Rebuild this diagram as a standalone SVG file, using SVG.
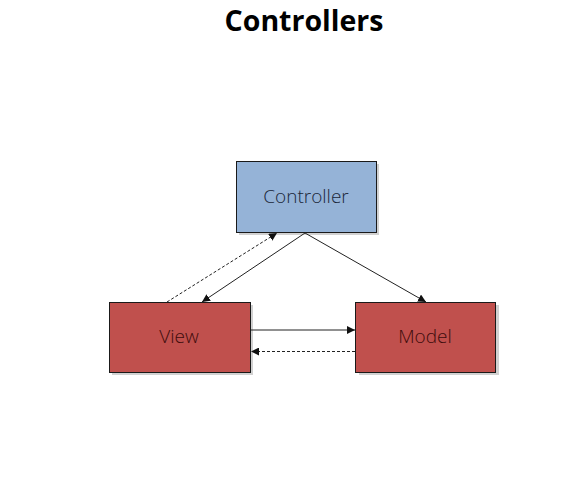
<svg xmlns="http://www.w3.org/2000/svg" width="588" height="501" viewBox="0 0 588 501">
<style>
.title{font-family:"Open Sans","Liberation Sans",sans-serif;font-weight:700;font-size:28.5px;fill:#000;text-anchor:middle}
.lbl{font-family:"Open Sans","Liberation Sans",sans-serif;font-weight:300;font-size:19px;text-anchor:middle;dominant-baseline:central}
.box{stroke:#1a1a1a;stroke-width:1}
.ctl{fill:#95b3d7}
.red{fill:#c0504d}
.sh{fill:#000;opacity:0.18}
.ln{stroke:#222;stroke-width:1;fill:none}
.dash{stroke-dasharray:3,2}
</style>
<defs>
<marker id="ah" viewBox="0 0 10 10" refX="10" refY="5" markerWidth="8" markerHeight="8" markerUnits="userSpaceOnUse" orient="auto">
<path d="M0,0 L10,5 L0,10 z" fill="#111"/>
</marker>
</defs>
<rect width="588" height="501" fill="#fff"/>
<text class="title" x="304" y="31">Controllers</text>
<g id="controller">
<rect class="sh" x="239" y="164" width="140" height="71"/>
<rect class="box ctl" x="236.5" y="161.5" width="140" height="71"/>
<text class="lbl" x="306" y="196" fill="#1a2638">Controller</text>
</g>
<g id="view">
<rect class="sh" x="112" y="305" width="141" height="70"/>
<rect class="box red" x="109.5" y="302.5" width="141" height="70"/>
<text class="lbl" x="179" y="336" fill="#3d0c0c">View</text>
</g>
<g id="model">
<rect class="sh" x="359" y="305" width="140" height="70"/>
<rect class="box red" x="355.5" y="302.5" width="140" height="70"/>
<text class="lbl" x="425" y="336" fill="#3d0c0c">Model</text>
</g>
<g id="connectors">
<line class="ln dash" x1="167" y1="302" x2="277" y2="233" marker-end="url(#ah)"/>
<line class="ln" x1="305" y1="233" x2="202" y2="302" marker-end="url(#ah)"/>
<line class="ln" x1="305" y1="233" x2="426" y2="302" marker-end="url(#ah)"/>
<line class="ln" x1="251" y1="330" x2="355" y2="330" marker-end="url(#ah)"/>
<line class="ln dash" x1="355" y1="351.5" x2="251" y2="351.5" marker-end="url(#ah)"/>
</g>
</svg>
